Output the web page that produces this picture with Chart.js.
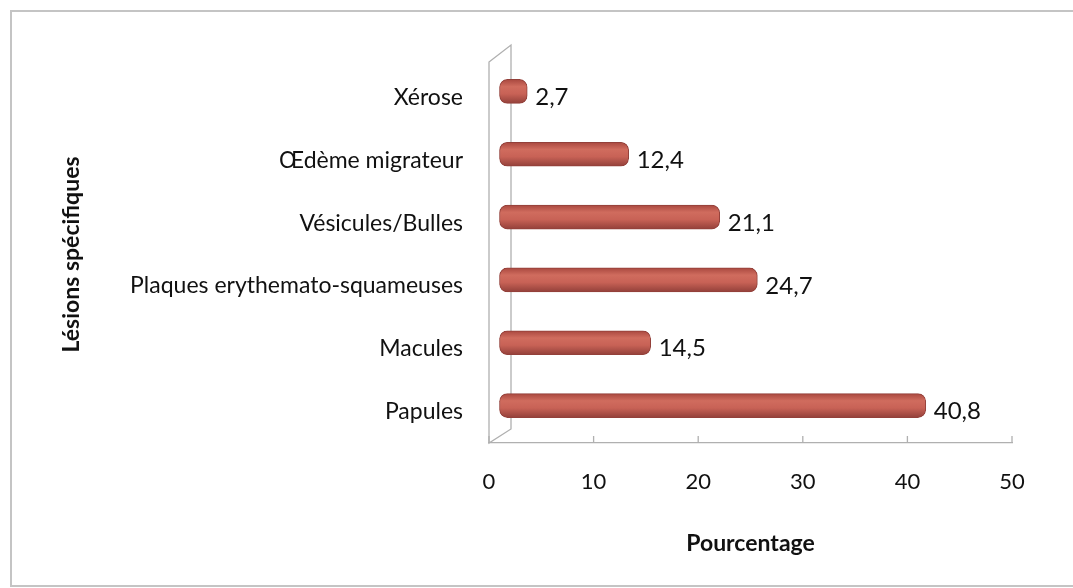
<!DOCTYPE html>
<html>
<head>
<meta charset="utf-8">
<script src="https://cdn.jsdelivr.net/npm/chart.js@4.4.1/dist/chart.umd.min.js"></script>
<style>
    body { margin: 0; background: #fff; }
    #frame { position: absolute; left: 10px; top: 10px; width: 1070px; height: 573px; border: 2px solid #c4c4c4; border-right: none; }
    #wrap { position: absolute; left: 0; top: 0; width: 1073px; height: 588px; }
</style>
</head>
<body>
<div id="frame"></div>
<div id="wrap"><canvas id="chart"></canvas></div>
<script>
    // Lésions spécifiques, from top to bottom
    const categories = ['Xérose', 'Œdème migrateur', 'Vésicules/Bulles', 'Plaques erythemato-squameuses', 'Macules', 'Papules'];
    const percentages = [2.7, 12.4, 21.1, 24.7, 14.5, 40.8];
    const xTicks = [0, 10, 20, 30, 40, 50];

    const fontFamily = 'Lato, "Open Sans", sans-serif';
    const depthX = 10, depthY = -6;   // fake 3D shift of the bars
    const ctx = document.getElementById('chart').getContext('2d');

    // cylinder look: darker edges, softer band in the middle
    function barFill(context) {
        const chart = context.chart;
        const yScale = chart.scales.y;
        if (!chart.chartArea || !yScale || context.dataIndex === undefined) return '#c55f53';
        const cy = yScale.getPixelForValue(context.dataIndex);
        const g = chart.ctx.createLinearGradient(0, cy - 12, 0, cy + 12);
        g.addColorStop(0, '#a9483f');
        g.addColorStop(0.3, '#d06c5e');
        g.addColorStop(0.6, '#c86256');
        g.addColorStop(1, '#93403a');
        return g;
    }

    // side wall, floor ticks, bar depth shift and value labels
    const decor = {
        id: 'decor',
        beforeDatasetsDraw(chart) {
            const c = chart.ctx;
            const a = chart.chartArea;
            const x = chart.scales.x;
            c.save();
            c.strokeStyle = '#b0b0b0';
            c.lineWidth = 1.3;
            c.beginPath();
            c.moveTo(a.left, a.top - 4);
            c.lineTo(a.left + 22, a.top - 21);
            c.lineTo(a.left + 22, a.bottom - 14);
            c.lineTo(a.left, a.bottom);
            c.closePath();
            c.stroke();
            c.beginPath();
            xTicks.forEach(v => {
                const px = x.getPixelForValue(v);
                c.moveTo(px, a.bottom);
                c.lineTo(px, a.bottom - 7);
            });
            c.stroke();
            c.restore();
            c.save();
            c.translate(depthX, depthY);
        },
        afterDatasetsDraw(chart) {
            const c = chart.ctx;
            c.restore();
            const meta = chart.getDatasetMeta(0);
            c.save();
            c.font = '24px ' + fontFamily;
            c.fillStyle = '#111';
            c.textAlign = 'left';
            c.textBaseline = 'middle';
            meta.data.forEach((bar, i) => {
                c.fillText(percentages[i].toFixed(1).replace('.', ','), bar.x + depthX + 8, bar.y);
            });
            c.restore();
        }
    };

    new Chart(ctx, {
        type: 'bar',
        data: {
            labels: categories,
            datasets: [{
                data: percentages,
                backgroundColor: barFill,
                borderColor: '#93403a',
                borderWidth: 1,
                borderRadius: 8,
                borderSkipped: false,
                barThickness: 24
            }]
        },
        plugins: [decor],
        options: {
            indexAxis: 'y',
            responsive: true,
            maintainAspectRatio: false,
            animation: false,
            layout: { padding: { left: 58, right: 61, top: 66, bottom: 31 } },
            plugins: {
                legend: { display: false },
                tooltip: { enabled: false }
            },
            scales: {
                x: {
                    min: 0,
                    max: 50,
                    afterBuildTicks: scale => { scale.ticks = xTicks.map(v => ({ value: v })); },
                    afterFit: scale => { scale.height = 114; },
                    grid: { display: true, drawOnChartArea: false, drawTicks: false },
                    border: { display: true, color: '#b0b0b0', width: 1.3 },
                    ticks: { color: '#111', padding: 26, font: { family: fontFamily, size: 22 } },
                    title: {
                        display: true,
                        text: 'Pourcentage',
                        color: '#111',
                        padding: 0,
                        font: { family: fontFamily, size: 23, weight: 'bold' }
                    }
                },
                y: {
                    afterFit: scale => { scale.width = 431; },
                    grid: { display: false, drawTicks: false },
                    border: { display: false },
                    ticks: { color: '#111', padding: 26, font: { family: fontFamily, size: 23 } },
                    title: {
                        display: true,
                        text: 'Lésions spécifiques',
                        color: '#111',
                        padding: 0,
                        font: { family: fontFamily, size: 23, weight: 'bold' }
                    }
                }
            }
        }
    });
</script>
</body>
</html>
